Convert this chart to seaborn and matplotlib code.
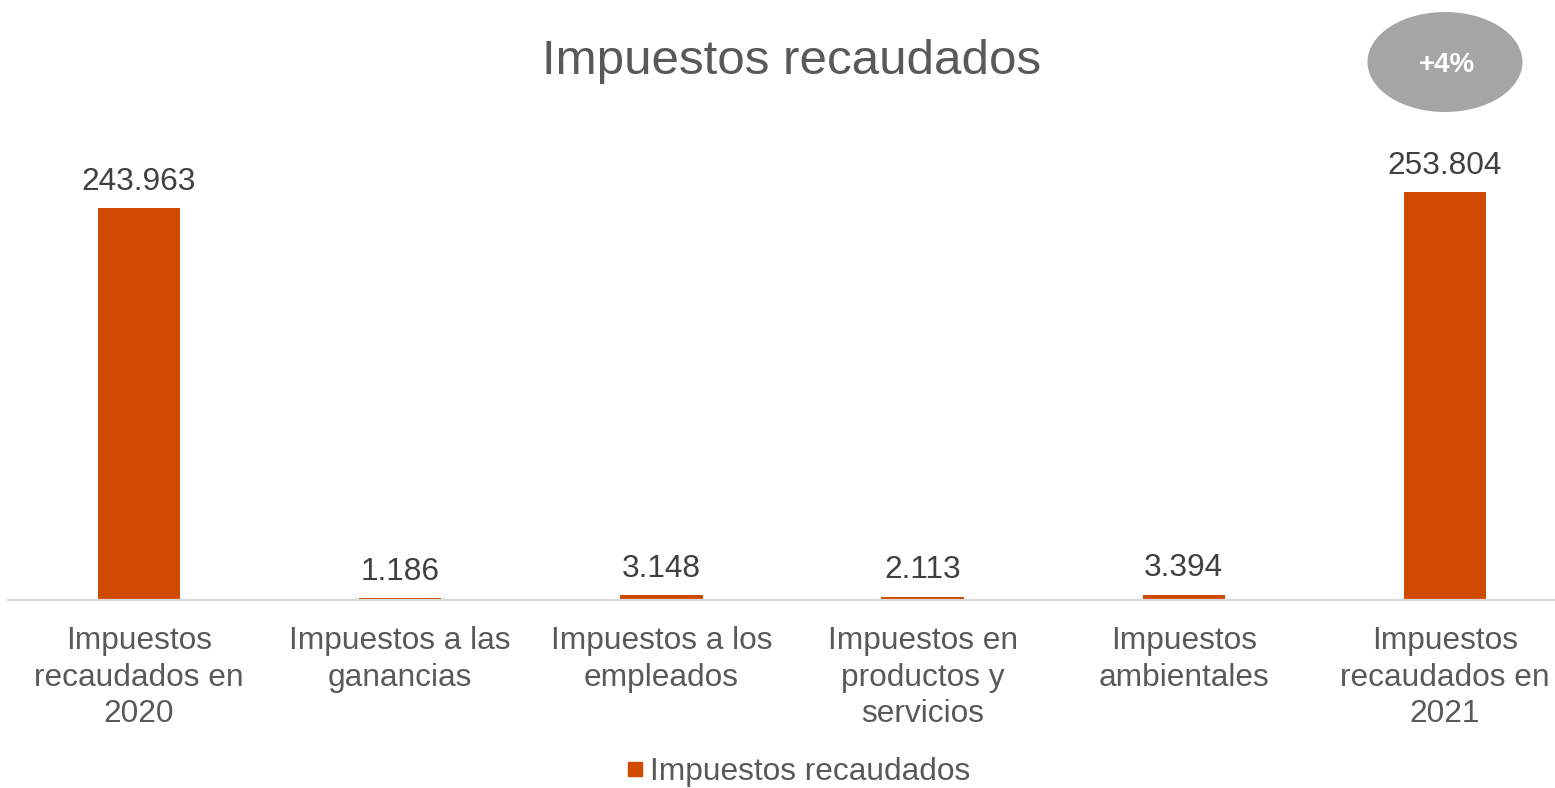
import matplotlib
matplotlib.use("Agg")
import matplotlib.pyplot as plt
import seaborn as sns
import pandas as pd
from matplotlib.patches import Ellipse
from matplotlib.lines import Line2D

categories = [
    "Impuestos\nrecaudados en\n2020",
    "Impuestos a las\nganancias",
    "Impuestos a los\nempleados",
    "Impuestos en\nproductos y\nservicios",
    "Impuestos\nambientales",
    "Impuestos\nrecaudados en\n2021",
]
values = [243963, 1186, 3148, 2113, 3394, 253804]
series_name = "Impuestos recaudados"
title = "Impuestos recaudados"
badge_text = "+4%"

BAR = "#D04A02"
TXT = "#595959"

sns.set_theme(style="white")
plt.rcParams["font.family"] = ["Liberation Sans", "DejaVu Sans"]

fig = plt.figure(figsize=(15.55, 7.88), dpi=100)
W, H = 1555, 788
step = 261.2
ax = fig.add_axes([8.4 / W, (H - 600) / H, 6 * step / W, 482 / H])

df = pd.DataFrame({"cat": categories, "val": values})
sns.barplot(data=df, x="cat", y="val", color=BAR, width=0.315, ax=ax,
            saturation=1, edgecolor="none")
ax.set_ylim(0, 300000)
ax.set_xlim(-0.5, len(categories) - 0.5)
ax.set_xlabel("")
ax.set_ylabel("")
ax.set_yticks([])
for s in ["top", "right", "left"]:
    ax.spines[s].set_visible(False)
ax.spines["bottom"].set_color("#D9D9D9")
ax.spines["bottom"].set_linewidth(1.6)
ax.tick_params(axis="x", length=0, pad=18.8, labelsize=22.8, labelcolor=TXT)
for lab in ax.get_xticklabels():
    lab.set_linespacing(1.285)

labels = [f"{v:,}".replace(",", ".") for v in values]
ax.bar_label(ax.containers[0], labels=labels, padding=8, fontsize=22.8,
             color="#404040")

fig.text(792 / W, (H - 61.5) / H, title, ha="center", va="center",
         fontsize=35.5, color=TXT)

# badge
bx = fig.add_axes([0, 0, 1, 1], facecolor="none")
bx.set_xlim(0, W)
bx.set_ylim(H, 0)
bx.axis("off")
bx.add_patch(Ellipse((1445, 62), 155, 100, facecolor="#A5A5A5", edgecolor="none"))
bx.text(1447, 64.5, badge_text, ha="center", va="center", fontsize=20,
        fontweight="bold", color="white")

handle = Line2D([], [], marker="s", linestyle="none", markersize=10.5,
                markerfacecolor=BAR, markeredgecolor=BAR)
fig.legend([handle], [series_name], loc="center", bbox_to_anchor=(797 / W, (H - 772) / H),
           frameon=False, fontsize=22.8, labelcolor=TXT, handletextpad=0.1,
           handlelength=0.7, borderpad=0)

fig.savefig("out.png", dpi=100)
